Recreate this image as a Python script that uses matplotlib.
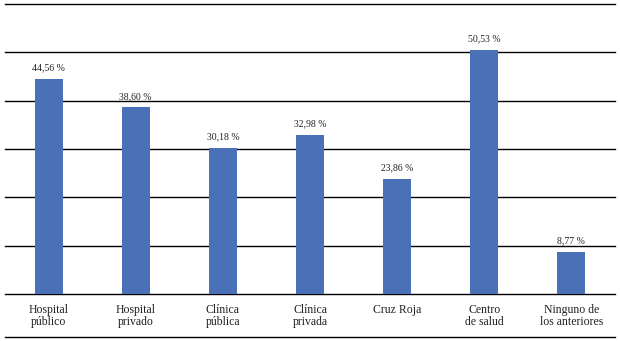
import matplotlib
matplotlib.use("Agg")
import matplotlib.pyplot as plt
from matplotlib.lines import Line2D

categories = ["Hospital\npúblico", "Hospital\nprivado", "Clínica\npública", "Clínica\nprivada",
              "Cruz Roja", "Centro\nde salud", "Ninguno de\nlos anteriores"]
values = [44.56, 38.60, 30.18, 32.98, 23.86, 50.53, 8.77]
value_labels = ["44,56 %", "38,60 %", "30,18 %", "32,98 %", "23,86 %", "50,53 %", "8,77 %"]
gridlines = [0, 10, 20, 30, 40, 50, 60]

plt.rcParams["font.family"] = ["Liberation Serif", "DejaVu Serif"]

W, H = 620, 341
fig = plt.figure(figsize=(W / 100, H / 100), dpi=100)
ax = fig.add_axes([5 / W, 47 / H, 610 / W, 290 / H])

x = range(len(categories))
for g in gridlines:
    ax.axhline(g, color="black", lw=1.0, zorder=1, clip_on=False)
ax.bar(x, values, width=0.32, color="#4a71b7", zorder=2)
for xi, v, lab in zip(x, values, value_labels):
    ax.text(xi, v + 2.3, lab, ha="center", va="center", fontsize=7, color="#222222")

ax.set_xlim(-0.5, len(categories) - 0.5)
ax.set_ylim(0, 60)
ax.set_yticks([])
ax.set_xticks(list(x))
ax.set_xticklabels(categories, fontsize=8.5, linespacing=1.0, color="#222222")
ax.tick_params(axis="x", length=0, pad=7)
for s in ax.spines.values():
    s.set_visible(False)
ax.patch.set_visible(False)

fig.add_artist(Line2D([5 / W, 615 / W], [(H - 337) / H] * 2, color="black", lw=1.0))

fig.savefig("out.png", dpi=100)
